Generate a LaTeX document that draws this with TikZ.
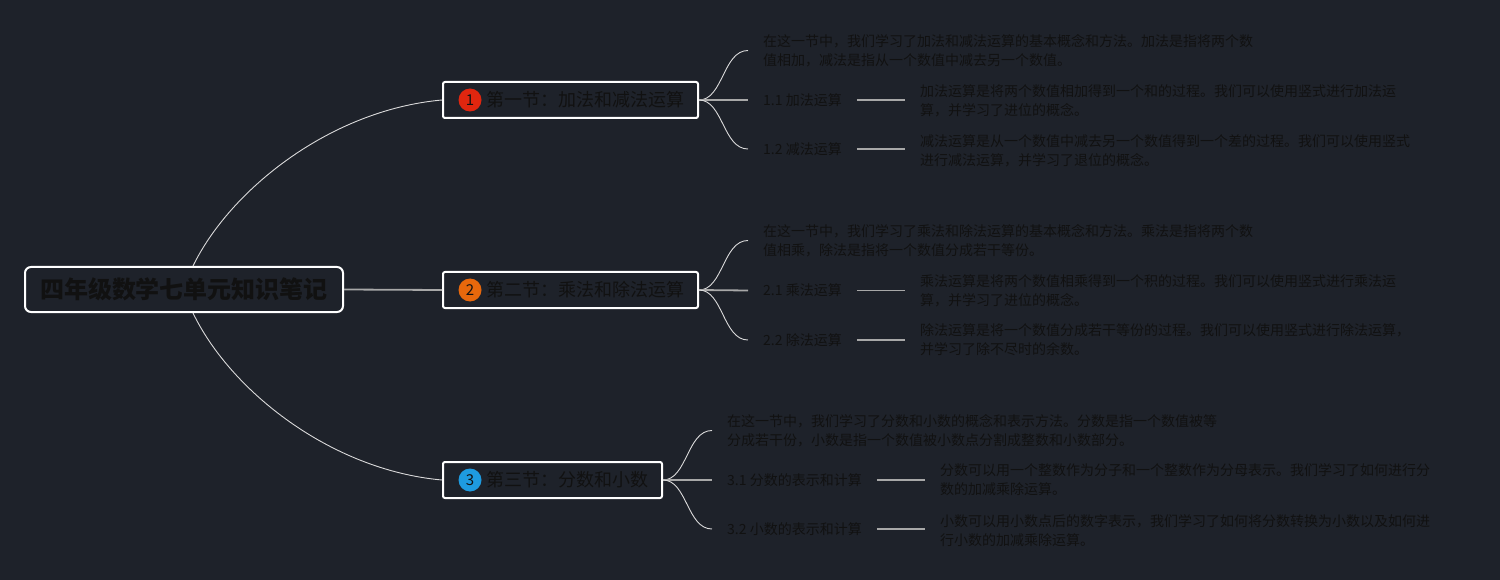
\documentclass[tikz,border=0pt]{standalone}
\usepackage{fontspec}
\setmainfont{Noto Sans CJK SC}
\definecolor{bg}{HTML}{1E222A}
\definecolor{ink}{HTML}{111111}
\definecolor{curve}{HTML}{DADADA}
\definecolor{hline}{HTML}{A8A8A8}
\definecolor{cred}{HTML}{E0260F}
\definecolor{corange}{HTML}{E8680C}
\definecolor{cblue}{HTML}{1E9BE0}
\tikzset{
  rootbox/.style={draw=white, line width=2pt, rounded corners=6pt, fill=bg,
    minimum width=318pt, minimum height=45pt, inner sep=0pt,
    text=ink, font=\fontsize{24}{28}\selectfont\bfseries},
  secbox/.style={draw=white, line width=2pt, rounded corners=2pt, fill=bg,
    minimum height=36pt, inner sep=0pt},
  badge/.style={circle, minimum size=23pt, inner sep=0pt, text=ink,
    font=\fontsize{15}{16}\selectfont},
  sectitle/.style={anchor=west, inner sep=0pt, text=ink,
    font=\fontsize{18}{22}\selectfont},
  desc/.style={anchor=west, inner xsep=15pt, inner ysep=0pt, align=left,
    text=ink, font=\fontsize{14}{19}\selectfont},
  lbl/.style={anchor=west, inner xsep=15pt, inner ysep=0pt, text=ink,
    font=\fontsize{14}{19}\selectfont},
  thin/.style={draw=curve, line width=0.9pt},
  gline/.style={draw=hline, line width=1.8pt},
}
\begin{document}
\begin{tikzpicture}[x=1pt,y=-1pt]
\fill[bg] (0,0) rectangle (1500,580);
\useasboundingbox (0,0) rectangle (1500,580);

% root
\node[rootbox] (root) at (184,289.5) {四年级数学七单元知识笔记};

% section boxes
\node[secbox, minimum width=255pt] (s1) at (570.5,100) {};
\node[badge, fill=cred] (b1) at (470,100) {1};
\node[sectitle] (t1) at (486,100) {第一节：加法和减法运算};

\node[secbox, minimum width=255pt] (s2) at (570.5,290) {};
\node[badge, fill=corange] (b2) at (470,290) {2};
\node[sectitle] (t2) at (486,290) {第二节：乘法和除法运算};

\node[secbox, minimum width=219pt] (s3) at (552.5,480) {};
\node[badge, fill=cblue] (b3) at (470,480) {3};
\node[sectitle] (t3) at (486,480) {第三节：分数和小数};

% root connectors
\draw[thin] ([xshift=9pt]root.north) .. controls (230,190) and (330,110) .. (s1.west);
\draw[gline] (root.east) -- (s2.west);
\draw[thin] ([xshift=9pt]root.south) .. controls (230,390) and (330,470) .. (s3.west);

% section 1
\node[desc] (d1) at (748,50.5) {在这一节中，我们学习了加法和减法运算的基本概念和方法。加法是指将两个数\\值相加，减法是指从一个数值中减去另一个数值。};
\node[lbl] (l11) at (748,100) {1.1 加法运算};
\node[desc] (e11) at (905,100.5) {加法运算是将两个数值相加得到一个和的过程。我们可以使用竖式进行加法运\\算，并学习了进位的概念。};
\node[lbl] (l12) at (748,149) {1.2 减法运算};
\node[desc] (e12) at (905,150.5) {减法运算是从一个数值中减去另一个数值得到一个差的过程。我们可以使用竖式\\进行减法运算，并学习了退位的概念。};
\draw[thin] (s1.east) .. controls (723,100) and (723,50.5) .. (d1.west);
\draw[gline] (s1.east) -- (l11.west);
\draw[thin] (s1.east) .. controls (723,100) and (723,149) .. (l12.west);
\draw[gline] (l11.east) -- (e11.west |- l11.east);
\draw[gline] (l12.east) -- (e12.west |- l12.east);

% section 2
\node[desc] (d2) at (748,240.5) {在这一节中，我们学习了乘法和除法运算的基本概念和方法。乘法是指将两个数\\值相乘，除法是指将一个数值分成若干等份。};
\node[lbl] (l21) at (748,290.5) {2.1 乘法运算};
\node[desc] (e21) at (905,291) {乘法运算是将两个数值相乘得到一个积的过程。我们可以使用竖式进行乘法运\\算，并学习了进位的概念。};
\node[lbl] (l22) at (748,340) {2.2 除法运算};
\node[desc] (e22) at (905,339.5) {除法运算是将一个数值分成若干等份的过程。我们可以使用竖式进行除法运算，\\并学习了除不尽时的余数。};
\draw[thin] (s2.east) .. controls (723,290) and (723,240.5) .. (d2.west);
\draw[gline] (s2.east) -- (l21.west);
\draw[thin] (s2.east) .. controls (723,290) and (723,340) .. (l22.west);
\draw[gline] (l21.east) -- (e21.west |- l21.east);
\draw[gline] (l22.east) -- (e22.west |- l22.east);

% section 3
\node[desc] (d3) at (712,430.5) {在这一节中，我们学习了分数和小数的概念和表示方法。分数是指一个数值被等\\分成若干份，小数是指一个数值被小数点分割成整数和小数部分。};
\node[lbl] (l31) at (712,480) {3.1 分数的表示和计算};
\node[desc] (e31) at (925,480) {分数可以用一个整数作为分子和一个整数作为分母表示。我们学习了如何进行分\\数的加减乘除运算。};
\node[lbl] (l32) at (712,529) {3.2 小数的表示和计算};
\node[desc] (e32) at (925,530.5) {小数可以用小数点后的数字表示，我们学习了如何将分数转换为小数以及如何进\\行小数的加减乘除运算。};
\draw[thin] (s3.east) .. controls (687,480) and (687,430.5) .. (d3.west);
\draw[gline] (s3.east) -- (l31.west);
\draw[thin] (s3.east) .. controls (687,480) and (687,529) .. (l32.west);
\draw[gline] (l31.east) -- (e31.west |- l31.east);
\draw[gline] (l32.east) -- (e32.west |- l32.east);
\end{tikzpicture}
\end{document}
